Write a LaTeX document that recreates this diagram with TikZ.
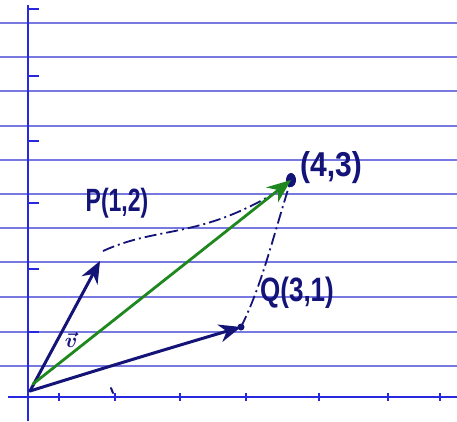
\documentclass[tikz,border=0pt]{standalone}
\usepackage{fontspec}
\setmainfont{Liberation Sans}
\usetikzlibrary{arrows.meta}
\definecolor{ruling}{RGB}{120,120,225}
\definecolor{axisblue}{RGB}{40,40,225}
\definecolor{ink}{RGB}{20,20,120}
\definecolor{inkgreen}{RGB}{30,135,30}
\newcommand{\tallhand}[2]{\scalebox{1}[#1]{#2}}

\tikzset{
    ruled/.style={ruling, line width=1.2pt},
    axisline/.style={axisblue, line width=2.2pt},
    vecarrow/.style={ink, line width=3pt, line cap=round, -{Stealth[length=22pt, width=18pt]}},
    sumarrow/.style={inkgreen, line width=2.8pt, line cap=round, -{Stealth[length=24pt, width=19pt]}},
    helper/.style={ink, line width=1.8pt, dash pattern=on 12pt off 4pt on 2pt off 4pt},
    hand/.style={ink, font=\bfseries, inner sep=0pt}
}

\begin{document}
\begin{tikzpicture}[x=1pt, y=-1pt]
    \useasboundingbox[fill=white] (0,0) rectangle (457,421);

    % Ruled paper
    \foreach \y in {23,57,91,126,160,194,228,262,297,332,366} {
        \draw[ruled] (0,\y) -- (457,\y);
    }

    % Axes and ticks
    \draw[axisline] (8,397) -- (457,397);
    \draw[axisline] (28,5) -- (28,421);
    \foreach \y in {9,76,141,203,269,332} {
        \draw[axisblue, line width=1.4pt] (28,\y) -- (39,\y);
    }
    \foreach \x in {59,115,180,246,319,388,440} {
        \draw[axisblue, line width=1.2pt] (\x,393) -- (\x,401);
    }

    % Points
    \coordinate (O) at (30,391);
    \coordinate (G) at (33,384);
    \coordinate (P) at (100,261);
    \coordinate (Q) at (241,327);
    \coordinate (S) at (291,180);
    \fill[ink] (S) ellipse (5pt and 7pt);
    \fill[ink] (Q) circle (3.5pt);

    % Dashed completion of the parallelogram
    \draw[helper] (P) ++(3,-10) .. controls (160,225) and (200,240) .. (283,188);
    \draw[helper] (Q) .. controls (262,285) and (272,240) .. (S);

    % Vectors
    \draw[vecarrow] (O) -- (P);
    \draw[vecarrow] (O) .. controls (110,366) and (180,345) .. (Q);
    \draw[sumarrow] (G) -- (S);

    % Labels
    \node[hand, font=\fontsize{23}{23}\bfseries] (Plabel) at (117,203) {\tallhand{1.4}{P(1,2)}};
    \node[hand, font=\fontsize{30}{30}\bfseries] (Slabel) at (331,168) {\tallhand{1.15}{(4,3)}};
    \node[hand, font=\fontsize{26}{26}\bfseries] (Qlabel) at (297,293) {\tallhand{1.3}{Q(3,1)}};
    \node[ink, font=\fontsize{20}{20}\selectfont\boldmath, inner sep=0pt] (vlabel) at (71,340) {$\vec{v}$};
    \draw[ink, line width=2pt, line cap=round] (111,388) -- (113,393);
\end{tikzpicture}
\end{document}
